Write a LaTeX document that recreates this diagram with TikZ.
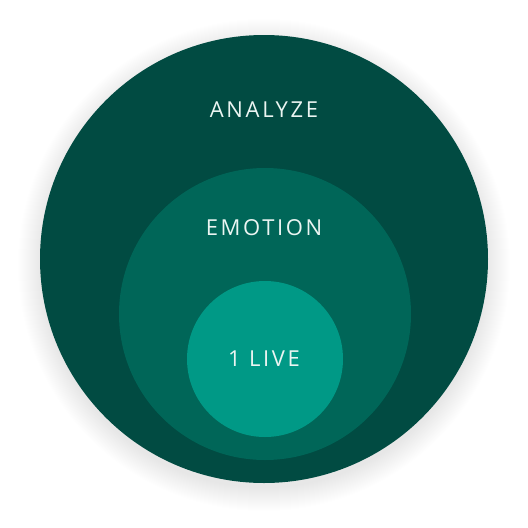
\documentclass[tikz,border=0pt]{standalone}
\usepackage{fontspec}
\setmainfont{Open Sans}
\newfontfamily\ringfont[LetterSpace=12]{Open Sans}
\usetikzlibrary{positioning}
\definecolor{analyzecolor}{RGB}{1, 75, 66}
\definecolor{emotioncolor}{RGB}{0, 102, 88}
\definecolor{livecolor}{RGB}{0, 153, 134}
\definecolor{textcolor}{RGB}{235, 245, 242}

\begin{document}
\begin{tikzpicture}[
    x=1pt, y=-1pt,
    ring/.style={circle, inner sep=0pt},
    ringlabel/.style={anchor=base, inner sep=0pt, text=textcolor, font=\ringfont\fontsize{22}{26}\selectfont},
]
\useasboundingbox (0,0) rectangle (528,528);

% ============ shadow ============
\foreach \r in {1,...,24} {
    \fill[black, opacity=0.0045] (264,265) circle (222+\r);
}

% ============ circles ============
\node[ring, fill=analyzecolor, minimum size=448pt] (analyze) at (264,259) {};
\node[ring, fill=emotioncolor, minimum size=292pt] (emotion) at (265,314) {};
\node[ring, fill=livecolor, minimum size=156pt] (live) at (265,359) {};

% ============ labels ============
\node[ringlabel] (analyze_text) at (264,117) {ANALYZE};
\node[ringlabel] (emotion_text) at (264,235) {EMOTION};
\node[ringlabel] (live_text) at (264,366) {1 LIVE};

\end{tikzpicture}
\end{document}
